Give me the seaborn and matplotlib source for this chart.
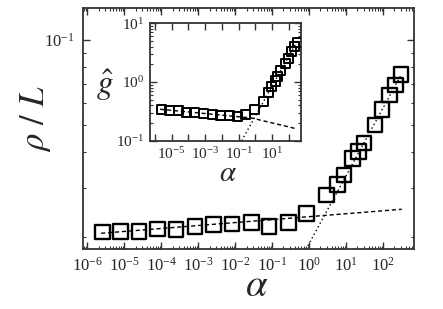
import numpy as np
import pandas as pd
import matplotlib
matplotlib.use("Agg")
from matplotlib import pyplot as plt
from matplotlib import ticker
import seaborn as sns

# data
alpha = [2.51e-6, 7.76e-6, 2.45e-5, 7.9e-5, 2.5e-4, 8.1e-4, 2.6e-3, 8.1e-3,
         2.75e-2, 8.1e-2, 0.27, 0.85, 2.95, 5.75, 8.7, 14.8, 21.4, 30.2,
         60.3, 93.3, 148, 214, 302]
rho_over_L = [0.0209, 0.0210, 0.0210, 0.0214, 0.0213, 0.0218, 0.0222, 0.0223,
              0.0225, 0.0218, 0.0225, 0.0243, 0.0282, 0.0308, 0.0332, 0.0380,
              0.0403, 0.0431, 0.0500, 0.0567, 0.0639, 0.0692, 0.0753]
g_hat = [0.343, 0.330, 0.321, 0.308, 0.301, 0.290, 0.282, 0.271, 0.264, 0.260,
         0.278, 0.339, 0.474, 0.659, 0.845, 1.04, 1.25, 1.60, 2.06, 2.50,
         3.37, 4.06, 4.80]

# fitted guide lines (end points)
main_dash_x = [2.34e-6, 316]
main_dash_y = [0.02065, 0.02512]
main_dot_x = [0.809, 303]
main_dot_y = [0.01811, 0.0752]
inset_dash_x = [2.1e-6, 0.575, 245]
inset_dash_y = [0.343, 0.244, 0.161]
inset_dot_x = [0.151, 282]
inset_dot_y = [0.1, 4.8]

df = pd.DataFrame({"alpha": alpha, "rho": rho_over_L, "g": g_hat})

sns.set_style("ticks")
plt.rcParams["font.family"] = "serif"
plt.rcParams["font.serif"] = ["Liberation Serif", "DejaVu Serif"]
plt.rcParams["mathtext.fontset"] = "stix"

W, H = 443, 309
fig = plt.figure(figsize=(W / 100, H / 100), dpi=100)
ax = fig.add_axes([83 / W, 1 - 248.5 / H, 331 / W, 241 / H])
ins = fig.add_axes([149.5 / W, 1 - 140.7 / H, 151.5 / W, 117.4 / H])

spine_col = "#333333"


def style_axes(a, size, pad):
    for s in a.spines.values():
        s.set_color(spine_col)
        s.set_linewidth(1.3)
    a.tick_params(which="both", direction="in", top=True, right=True,
                  color=spine_col, labelsize=size, pad=pad)
    a.tick_params(which="major", length=5, width=1)
    a.tick_params(which="minor", length=2.5, width=0.8)


def sci(v, pos):
    return r"$\mathdefault{10^{%d}}$" % int(round(np.log10(v)))


def odd_sci(v, pos):
    e = int(round(np.log10(v)))
    return r"$\mathdefault{10^{%d}}$" % e if e % 2 else ""


# ---- main plot
sns.lineplot(x=main_dash_x, y=main_dash_y, ax=ax, color="black", lw=1.0,
             linestyle=(0, (3, 2)))
sns.lineplot(x=main_dot_x, y=main_dot_y, ax=ax, color="black", lw=1.0,
             linestyle=(0, (1, 2)))
sns.scatterplot(data=df, x="alpha", y="rho", ax=ax, marker="s", s=110,
                facecolor="none", edgecolor="black", linewidth=1.7, zorder=3)
ax.set_xscale("log")
ax.set_yscale("log")
ax.set_xlim(10 ** -6.12, 10 ** 2.83)
ax.set_ylim(0.01824, 0.1303)
ax.xaxis.set_major_locator(ticker.LogLocator(base=10, numticks=20))
ax.xaxis.set_minor_locator(ticker.LogLocator(base=10, subs=np.arange(2, 10), numticks=20))
ax.xaxis.set_major_formatter(ticker.FuncFormatter(sci))
ax.xaxis.set_minor_formatter(ticker.NullFormatter())
ax.yaxis.set_major_locator(ticker.LogLocator(base=10, numticks=20))
ax.yaxis.set_minor_locator(ticker.LogLocator(base=10, subs=np.arange(2, 10), numticks=20))
ax.yaxis.set_major_formatter(ticker.FuncFormatter(sci))
ax.yaxis.set_minor_formatter(ticker.NullFormatter())
style_axes(ax, 12, 6)
ax.set_xlabel(r"$\alpha$", fontsize=28)
ax.set_ylabel(r"$\rho\ /\ L$", fontsize=25)
ax.xaxis.set_label_coords(0.526, -0.082)
ax.yaxis.set_label_coords(-0.09, 0.54)

# ---- inset
sns.lineplot(x=inset_dash_x, y=inset_dash_y, ax=ins, color="black", lw=1.0,
             linestyle=(0, (3, 2)))
sns.lineplot(x=inset_dot_x, y=inset_dot_y, ax=ins, color="black", lw=1.0,
             linestyle=(0, (1, 2)))
sns.scatterplot(data=df, x="alpha", y="g", ax=ins, marker="s", s=42,
                facecolor="none", edgecolor="black", linewidth=1.4, zorder=3)
ins.set_xscale("log")
ins.set_yscale("log")
ins.set_xlim(10 ** -6.31, 10 ** 2.71)
ins.set_ylim(0.1, 10)
ins.xaxis.set_major_locator(ticker.LogLocator(base=10, numticks=20))
ins.xaxis.set_minor_locator(ticker.NullLocator())
ins.xaxis.set_major_formatter(ticker.FuncFormatter(odd_sci))
ins.yaxis.set_major_locator(ticker.LogLocator(base=10, numticks=20))
ins.yaxis.set_minor_locator(ticker.LogLocator(base=10, subs=np.arange(2, 10), numticks=20))
ins.yaxis.set_major_formatter(ticker.FuncFormatter(sci))
ins.yaxis.set_minor_formatter(ticker.NullFormatter())
style_axes(ins, 11, 4)
ins.set_xlabel(r"$\alpha$", fontsize=21)
ins.set_ylabel(r"$\hat{g}$", fontsize=24, rotation=0, ha="right", va="center")
ins.xaxis.set_label_coords(0.518, -0.17)
ins.yaxis.set_label_coords(-0.235, 0.47)

fig.savefig("out.png", dpi=100)
